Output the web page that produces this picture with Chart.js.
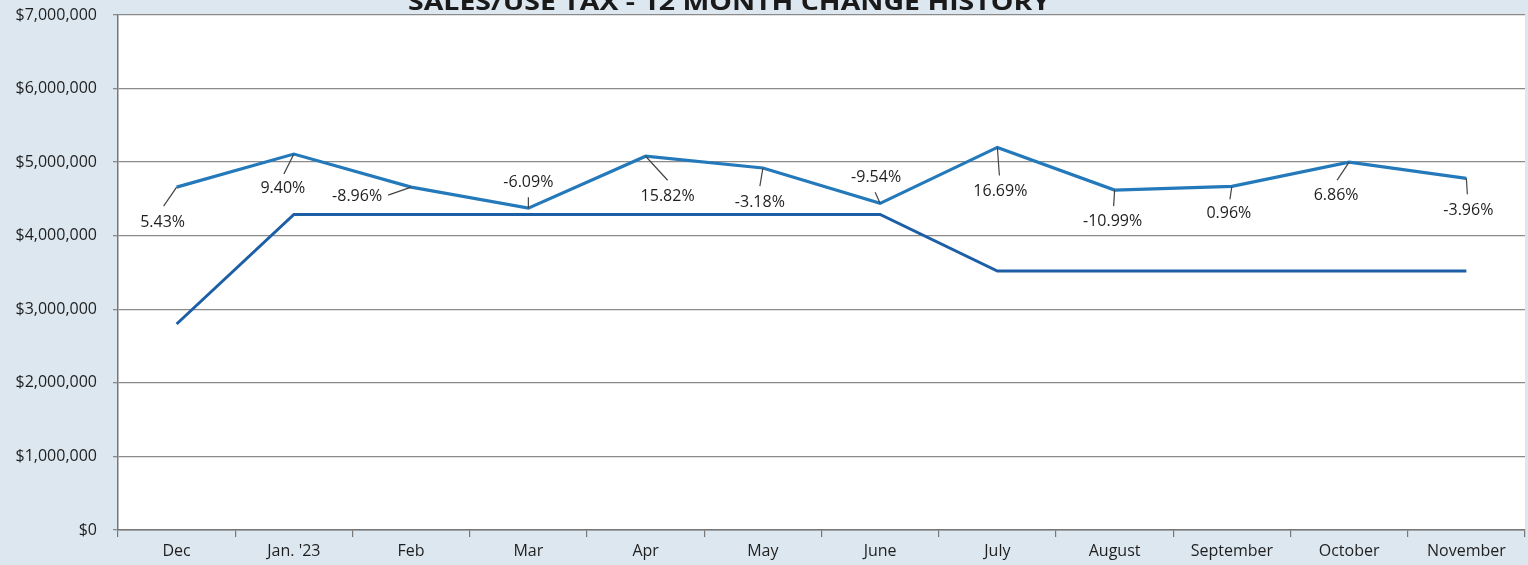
<!DOCTYPE html>
<html><head><meta charset="utf-8">
<script src="https://cdn.jsdelivr.net/npm/chart.js@4/dist/chart.umd.min.js"></script>
<style>html,body{margin:0;padding:0;background:#dce7f0;} #wrap{width:1528px;height:565px;position:relative}</style>
</head><body><div id="wrap"><canvas id="c"></canvas></div>
<script>
const chartTitle = 'SALES/USE TAX - 12 MONTH CHANGE HISTORY';
const categories = ['Dec', "Jan. '23", 'Feb', 'Mar', 'Apr', 'May', 'June', 'July', 'August', 'September', 'October', 'November'];
const currentYear = [4660000, 5110000, 4660000, 4375000, 5080000, 4920000, 4440000, 5200000, 4620000, 4670000, 5000000, 4780000];
const priorLine = [2800000, 4290000, 4290000, 4290000, 4290000, 4290000, 4290000, 3520000, 3520000, 3520000, 3520000, 3520000];
const changeLabels = ['5.43%', '9.40%', '-8.96%', '-6.09%', '15.82%', '-3.18%', '-9.54%', '16.69%', '-10.99%', '0.96%', '6.86%', '-3.96%'];
const yTickValues = [0, 1000000, 2000000, 3000000, 4000000, 5000000, 6000000, 7000000];

// label placement: [text dx, text dy, leader end dx, leader end dy] relative to the point
const labelPlacement = [
  [-14, 35, -13, 19], [-11, 34, -10, 20], [-54, 9, -23, 8], [0, -26, 0, -11],
  [22, 40, 22, 24], [-3, 34, -3, 18], [-4, -26, -5, -11], [3, 44, 2, 28],
  [-2, 31, -1, 16], [-3, 27, -2, 13], [-13, 33, -12, 18], [2, 32, 1, 16]
];

const FONT = '"Open Sans", "Liberation Sans", sans-serif';
const TEXT = '#1f1f1f';

const bgPlugin = {
  id: 'bg',
  beforeDraw(chart) {
    const { ctx, chartArea: a } = chart;
    ctx.save();
    ctx.fillStyle = '#dce7f0';
    ctx.fillRect(0, 0, chart.width, chart.height);
    ctx.fillStyle = '#ffffff';
    ctx.fillRect(a.left, a.top, a.right - a.left, a.bottom - a.top);
    ctx.restore();
  },
  afterDraw(chart) {
    const { ctx } = chart;
    ctx.save();
    ctx.fillStyle = '#1a1a1a';
    ctx.font = 'bold 24px ' + FONT;
    const w = ctx.measureText(chartTitle).width;
    const target = 642;
    ctx.translate(729, 10);
    ctx.scale(target / w, 1);
    ctx.textAlign = 'center';
    ctx.textBaseline = 'alphabetic';
    ctx.fillText(chartTitle, 0, 0);
    ctx.restore();
  }
};

const labelPlugin = {
  id: 'pctLabels',
  afterDatasetsDraw(chart) {
    const { ctx } = chart;
    const meta = chart.getDatasetMeta(0);
    ctx.save();
    ctx.font = '16px ' + FONT;
    ctx.textAlign = 'center';
    ctx.textBaseline = 'middle';
    meta.data.forEach((pt, i) => {
      const p = labelPlacement[i];
      ctx.strokeStyle = '#444';
      ctx.lineWidth = 1.2;
      ctx.beginPath();
      ctx.moveTo(pt.x, pt.y);
      ctx.lineTo(pt.x + p[2], pt.y + p[3]);
      ctx.stroke();
      ctx.fillStyle = TEXT;
      ctx.fillText(changeLabels[i], pt.x + p[0], pt.y + p[1]);
    });
    ctx.restore();
  }
};

new Chart(document.getElementById('c'), {
  type: 'line',
  data: {
    labels: categories,
    datasets: [
      { label: 'Current', data: currentYear, borderColor: '#2479bb', borderWidth: 3.2, pointRadius: 0, tension: 0, fill: false },
      { label: 'Prior', data: priorLine, borderColor: '#1c5fa6', borderWidth: 3, pointRadius: 0, tension: 0, fill: false }
    ]
  },
  options: {
    responsive: true,
    maintainAspectRatio: false,
    animation: false,
    layout: { padding: { top: 15, right: 3, left: 0, bottom: 0 } },
    plugins: { legend: { display: false }, tooltip: { enabled: false }, title: { display: false } },
    scales: {
      x: {
        offset: true,
        grid: { offset: true, drawOnChartArea: false, tickLength: 7, color: '#777', lineWidth: 1.2 },
        border: { color: '#777', width: 1.5 },
        ticks: { color: TEXT, font: { family: FONT, size: 16 }, padding: 5, maxRotation: 0, autoSkip: false },
        afterFit(s) { s.height = 35; s.paddingLeft = 0; s.paddingRight = 0; }
      },
      y: {
        min: 0, max: 7000000,
        afterBuildTicks(s) { s.ticks = yTickValues.map(v => ({ value: v })); },
        grid: { color: '#8a8a8a', lineWidth: 1.3, tickLength: 5 },
        border: { color: '#777', width: 1.5 },
        ticks: {
          color: TEXT, font: { family: FONT, size: 16 }, padding: 16,
          callback: v => '$' + Number(v).toLocaleString('en-US')
        },
        afterFit(s) { s.width = 118; s.paddingTop = 0; s.paddingBottom = 0; }
      }
    }
  },
  plugins: [bgPlugin, labelPlugin]
});
</script></body></html>
